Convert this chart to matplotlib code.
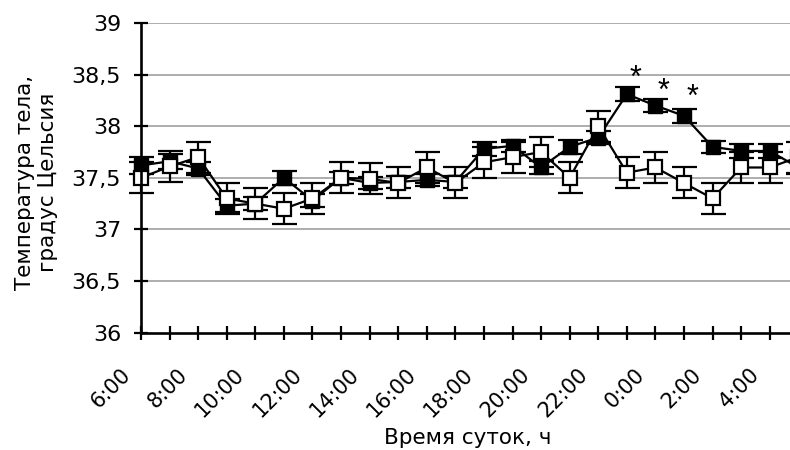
import matplotlib
matplotlib.use("Agg")
import matplotlib.pyplot as plt
from matplotlib.transforms import ScaledTranslation
import numpy as np

plt.rcParams['font.family'] = ['DejaVu Sans']

hours = ["6:00", "7:00", "8:00", "9:00", "10:00", "11:00", "12:00", "13:00",
         "14:00", "15:00", "16:00", "17:00", "18:00", "19:00", "20:00", "21:00",
         "22:00", "23:00", "0:00", "1:00", "2:00", "3:00", "4:00", "5:00"]

filled = [37.62, 37.66, 37.59, 37.23, 37.25, 37.50, 37.28, 37.50, 37.45, 37.46,
          37.48, 37.46, 37.78, 37.81, 37.60, 37.80, 37.89, 38.31, 38.20, 38.10,
          37.80, 37.76, 37.76, 37.60]
filled_err = [0.08, 0.07, 0.06, 0.06, 0.06, 0.07, 0.06, 0.06, 0.06, 0.06,
              0.06, 0.06, 0.07, 0.06, 0.06, 0.07, 0.06, 0.07, 0.06, 0.07,
              0.06, 0.07, 0.07, 0.06]

opened = [37.50, 37.61, 37.70, 37.30, 37.25, 37.20, 37.30, 37.50, 37.49, 37.45,
          37.60, 37.45, 37.65, 37.70, 37.75, 37.50, 38.00, 37.55, 37.60, 37.45,
          37.30, 37.60, 37.60, 37.70]
opened_err = [0.15, 0.15, 0.15, 0.15, 0.15, 0.15, 0.15, 0.15, 0.15, 0.15,
              0.15, 0.15, 0.15, 0.15, 0.15, 0.15, 0.15, 0.15, 0.15, 0.15,
              0.15, 0.15, 0.15, 0.15]

star_idx = [17, 18, 19]
star_values = [38.55, 38.43, 38.37]

yticks = [36, 36.5, 37, 37.5, 38, 38.5, 39]
ytick_labels = ["36", "36,5", "37", "37,5", "38", "38,5", "39"]

fig = plt.figure(figsize=(7.9, 4.5), dpi=100)
ax = fig.add_axes([0.1785, 0.2607, 0.8215, 0.6883])

x = np.arange(len(hours))

for v in yticks[1:]:
    ax.axhline(v, color='#a0a0a0', lw=1.2, zorder=0)

ax.errorbar(x, filled, yerr=filled_err, fmt='-s', color='black', mfc='black',
            mec='black', ms=9.5, lw=1.6, elinewidth=1.6, capsize=9,
            capthick=1.6, clip_on=False, zorder=3)
ax.errorbar(x, opened, yerr=opened_err, fmt='-s', color='black', mfc='white',
            mec='black', mew=1.6, ms=9.5, lw=1.6, elinewidth=1.6, capsize=9,
            capthick=1.6, clip_on=False, zorder=4)

for i, v in zip(star_idx, star_values):
    ax.annotate('*', xy=(x[i] + 0.29, v), xytext=(0, -12.7),
                textcoords='offset points', ha='center', va='baseline',
                fontsize=22, color='black', family='Liberation Sans')

ax.set_yticks(yticks)
ax.set_yticklabels(ytick_labels, fontsize=16)
ax.set_xticks(x)
ax.set_xticklabels([h if i % 2 == 0 else "" for i, h in enumerate(hours)],
                   fontsize=15, rotation=45, ha='right', va='center',
                   rotation_mode='anchor')
ax.set_ylim(36, 39)
ax.set_xlim(0, 22.71)

for s in ['top', 'right']:
    ax.spines[s].set_visible(False)
for s in ['left', 'bottom']:
    ax.spines[s].set_linewidth(1.9)
    ax.spines[s].set_zorder(5)

ax.tick_params(axis='both', direction='inout', length=10, width=1.6, color='black')
ax.tick_params(axis='y', pad=9.4)
ax.tick_params(axis='x', pad=23)

offset = ScaledTranslation(-10.1 / 72, 0, fig.dpi_scale_trans)
for lbl in ax.get_xticklabels():
    lbl.set_transform(lbl.get_transform() + offset)

fig.text(468 / 790, 1 - 444 / 450, "Время суток, ч", fontsize=15.5,
         ha='center', va='baseline')
fig.text(36.7 / 790, 1 - 182 / 450, "Температура тела,\nградус Цельсия",
         fontsize=15.5, rotation=90, ha='center', va='center',
         multialignment='center')

fig.savefig("out.png", dpi=100)
